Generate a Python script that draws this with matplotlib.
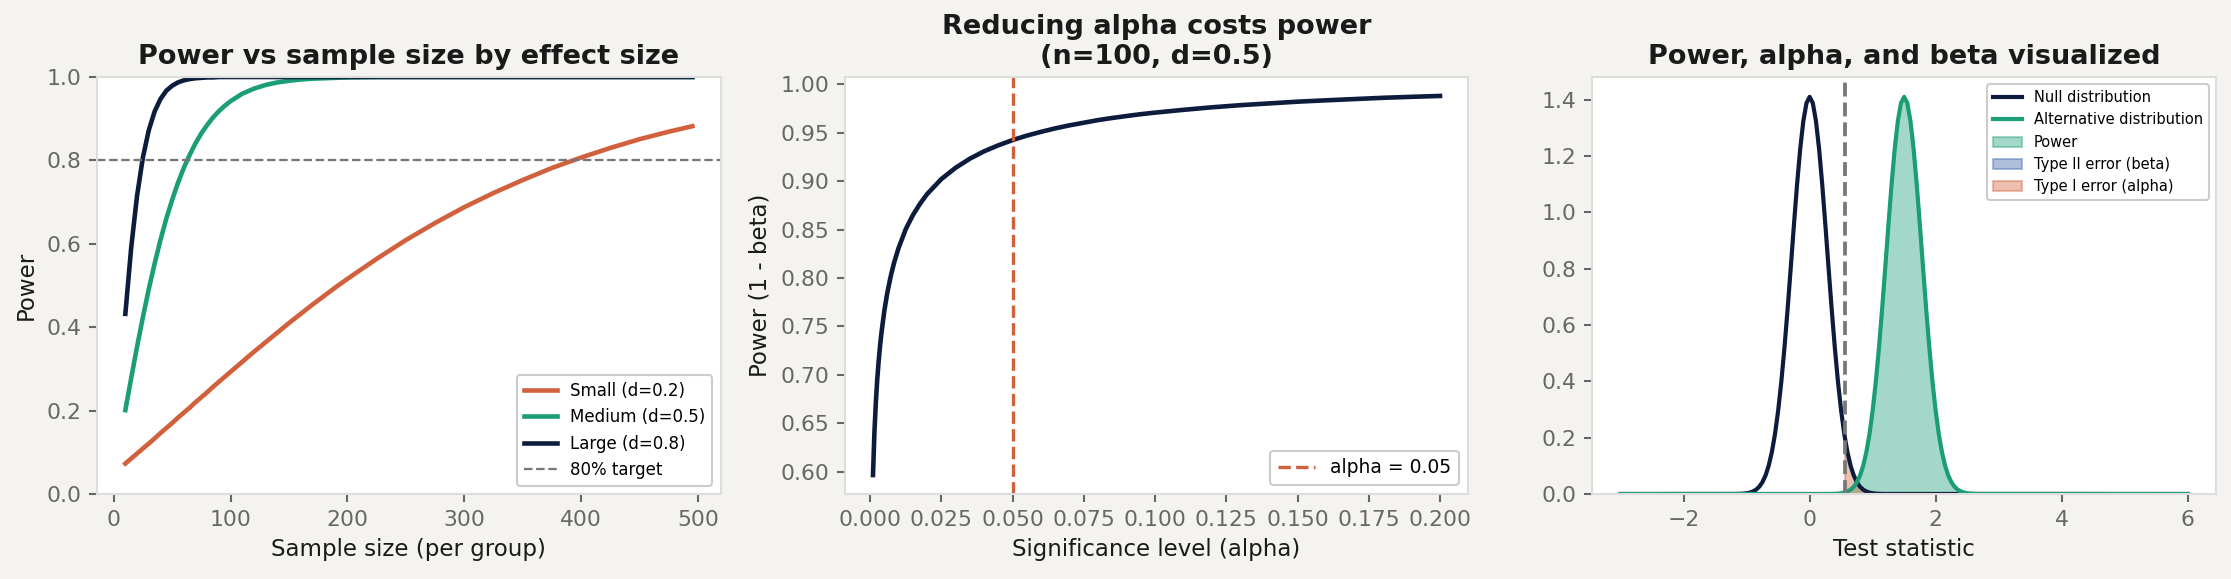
import numpy as np
import matplotlib
matplotlib.use("Agg")
import matplotlib.pyplot as plt

# ---------------- data ----------------
# Panel 1: power vs sample size
sample_sizes = [10, 15, 20, 25, 30, 35, 40, 45, 50,
                55, 60, 65, 70, 75, 80, 85, 90, 95, 100,
                110, 120, 130, 140, 150, 160, 170, 180, 190, 200,
                225, 250, 275, 300, 325, 350, 375, 400, 425, 450, 475, 495]
power_small = [0.073, 0.085, 0.097, 0.109, 0.121, 0.133, 0.146, 0.158, 0.170,
               0.183, 0.195, 0.207, 0.220, 0.232, 0.244, 0.257, 0.269, 0.281, 0.293,
               0.317, 0.341, 0.364, 0.387, 0.410, 0.432, 0.454, 0.475, 0.496, 0.516,
               0.564, 0.609, 0.650, 0.688, 0.722, 0.753, 0.782, 0.807, 0.830, 0.851,
               0.869, 0.882]
power_medium = [0.201, 0.278, 0.353, 0.424, 0.491, 0.552, 0.609, 0.660, 0.705,
                0.746, 0.782, 0.813, 0.841, 0.865, 0.885, 0.903, 0.918, 0.931, 0.942,
                0.960, 0.972, 0.981, 0.987, 0.991, 0.994, 0.996, 0.997, 0.998, 0.999,
                1.0, 1.0, 1.0, 1.0, 1.0, 1.0, 1.0, 1.0, 1.0, 1.0, 1.0, 1.0]
power_large = [0.432, 0.591, 0.715, 0.807, 0.872, 0.917, 0.947, 0.967, 0.979,
               0.987, 0.992, 0.995, 0.997, 0.998, 0.999, 0.999, 1.0, 1.0, 1.0,
               1.0, 1.0, 1.0, 1.0, 1.0, 1.0, 1.0, 1.0, 1.0, 1.0,
               1.0, 1.0, 1.0, 1.0, 1.0, 1.0, 1.0, 1.0, 1.0, 1.0, 1.0, 1.0]
series_labels = ["Small (d=0.2)", "Medium (d=0.5)", "Large (d=0.8)"]
target_power = 0.8

# Panel 2: power vs alpha
alphas = [0.001, 0.0015, 0.002, 0.0025, 0.003, 0.0035, 0.004, 0.005, 0.006, 0.007,
          0.0075, 0.0085, 0.01, 0.0125, 0.015, 0.0175, 0.02, 0.025, 0.03, 0.035,
          0.04, 0.045, 0.05, 0.055, 0.06, 0.065, 0.07, 0.075, 0.08, 0.085, 0.09,
          0.095, 0.10, 0.11, 0.12, 0.13, 0.14, 0.15, 0.16, 0.17, 0.18, 0.19, 0.20]
power_by_alpha = [0.5967, 0.6406, 0.6718, 0.6958, 0.7147, 0.7307, 0.7442, 0.7666,
                  0.7843, 0.7988, 0.8053, 0.8168, 0.8311, 0.8504, 0.8649, 0.8766,
                  0.8866, 0.9021, 0.9137, 0.9231, 0.9307, 0.9369, 0.9423, 0.9469,
                  0.9508, 0.9544, 0.9575, 0.9602, 0.9629, 0.9651, 0.9671, 0.9690,
                  0.9706, 0.9735, 0.9761, 0.9783, 0.9801, 0.9819, 0.9833, 0.9846,
                  0.9859, 0.9869, 0.9878]
alpha_ref = 0.05

# Panel 3: null and alternative distributions
null_x = [-3.0, -1.2, -1.15, -1.1, -1.05, -1.0, -0.95, -0.9, -0.85, -0.8, -0.75, -0.7,
          -0.65, -0.6, -0.55, -0.5, -0.45, -0.4, -0.35, -0.3, -0.25, -0.2, -0.15,
          -0.1, -0.05, 0.0, 0.05, 0.1, 0.15, 0.2, 0.25, 0.3, 0.35, 0.4, 0.45, 0.5,
          0.55, 0.554, 0.6, 0.65, 0.7, 0.75, 0.8, 0.85, 0.9, 0.95, 1.0, 1.05, 1.1,
          1.15, 1.2, 6.0]
null_density = [0.0, 0.0002, 0.0004, 0.0007, 0.0014, 0.0027, 0.0050, 0.0089, 0.0154,
                0.0258, 0.0419, 0.0660, 0.1006, 0.1487, 0.2129, 0.2957, 0.3979, 0.5189,
                0.6560, 0.8037, 0.9544, 1.0985, 1.2255, 1.3250, 1.3886, 1.4105, 1.3886,
                1.3250, 1.2255, 1.0985, 0.9544, 0.8037, 0.6560, 0.5189, 0.3979, 0.2957,
                0.2129, 0.2072, 0.1487, 0.1006, 0.0660, 0.0419, 0.0258, 0.0154, 0.0089,
                0.0050, 0.0027, 0.0014, 0.0007, 0.0004, 0.0002, 0.0]
alt_x = [-3.0, 0.3, 0.35, 0.4, 0.45, 0.5, 0.55, 0.554, 0.6, 0.65, 0.7, 0.75, 0.8, 0.85,
         0.9, 0.95, 1.0, 1.05, 1.1, 1.15, 1.2, 1.25, 1.3, 1.35, 1.4, 1.45, 1.5, 1.55,
         1.6, 1.65, 1.7, 1.75, 1.8, 1.85, 1.9, 1.95, 2.0, 2.05, 2.1, 2.15, 2.2, 2.25,
         2.3, 2.35, 2.4, 2.45, 2.5, 2.55, 2.6, 2.65, 2.7, 6.0]
alt_density = [0.0, 0.0002, 0.0004, 0.0007, 0.0014, 0.0027, 0.0050, 0.0053, 0.0089,
               0.0154, 0.0258, 0.0419, 0.0660, 0.1006, 0.1487, 0.2129, 0.2957, 0.3979,
               0.5189, 0.6560, 0.8037, 0.9544, 1.0985, 1.2255, 1.3250, 1.3886, 1.4105,
               1.3886, 1.3250, 1.2255, 1.0985, 0.9544, 0.8037, 0.6560, 0.5189, 0.3979,
               0.2957, 0.2129, 0.1487, 0.1006, 0.0660, 0.0419, 0.0258, 0.0154, 0.0089,
               0.0050, 0.0027, 0.0014, 0.0007, 0.0004, 0.0002, 0.0]
critical_value = 0.554

# ---------------- style ----------------
BG = "#f4f3ef"
NAVY = "#0d1b3d"
GREEN = "#1b9e77"
ORANGE = "#d1603d"
BLUE = "#4c72b0"
TICK = "#666666"
SPINE = "#dddddd"
TEXT = "#1a1a1a"

plt.rcParams.update({
    "font.family": ["DejaVu Sans"],
    "axes.edgecolor": SPINE,
    "axes.linewidth": 1.0,
    "xtick.color": TICK,
    "ytick.color": TICK,
    "xtick.labelcolor": TICK,
    "ytick.labelcolor": TICK,
    "xtick.labelsize": 10.5,
    "ytick.labelsize": 10.5,
    "axes.labelsize": 11,
    "axes.labelcolor": TEXT,
    "axes.titlesize": 13,
    "axes.titleweight": "bold",
    "axes.titlecolor": TEXT,
    "legend.edgecolor": "#cccccc",
})

fig, axes = plt.subplots(1, 3, figsize=(2231 / 150, 579 / 150), dpi=150)
fig.patch.set_facecolor(BG)
fig.subplots_adjust(left=97 / 2231, right=2216 / 2231, bottom=1 - 494 / 579,
                    top=1 - 77 / 579, wspace=124 / 624)

for ax in axes:
    ax.set_facecolor("white")
    for s in ax.spines.values():
        s.set_color(SPINE)
    ax.tick_params(length=4, width=1)

# Panel 1
ax = axes[0]
ax.plot(sample_sizes, power_small, color=ORANGE, lw=2.2, label=series_labels[0])
ax.plot(sample_sizes, power_medium, color=GREEN, lw=2.2, label=series_labels[1])
ax.plot(sample_sizes, power_large, color=NAVY, lw=2.2, label=series_labels[2])
ax.axhline(target_power, color="#777777", ls="--", lw=1.1, label="80% target")
ax.set_ylim(0, 1)
ax.set_xlabel("Sample size (per group)")
ax.set_ylabel("Power")
ax.set_title("Power vs sample size by effect size")
ax.legend(loc="lower right", fontsize=8, framealpha=1)

# Panel 2
ax = axes[1]
ax.plot(alphas, power_by_alpha, color=NAVY, lw=2.2)
ax.axvline(alpha_ref, color=ORANGE, ls="--", lw=1.6, label="alpha = 0.05")
ax.set_xticks([0.0, 0.025, 0.05, 0.075, 0.1, 0.125, 0.15, 0.175, 0.2])
ax.set_xticklabels(["0.000", "0.025", "0.050", "0.075", "0.100", "0.125", "0.150", "0.175", "0.200"])
ax.set_xlabel("Significance level (alpha)")
ax.set_ylabel("Power (1 - beta)")
ax.set_title("Reducing alpha costs power\n(n=100, d=0.5)")
ax.legend(loc="lower right", fontsize=9, framealpha=1)

# Panel 3
ax = axes[2]
nx = np.array(null_x)
nd = np.array(null_density)
axx = np.array(alt_x)
ad = np.array(alt_density)
ax.plot(nx, nd, color=NAVY, lw=2, label="Null distribution")
ax.plot(axx, ad, color=GREEN, lw=2, label="Alternative distribution")
ax.fill_between(axx, ad, where=axx >= critical_value, color=GREEN, alpha=0.4,
                label="Power")
ax.fill_between(axx, ad, where=axx <= critical_value, color=BLUE, alpha=0.45,
                label="Type II error (beta)")
ax.fill_between(nx, nd, where=nx >= critical_value, color=ORANGE, alpha=0.4,
                label="Type I error (alpha)")
ax.axvline(critical_value, color="#777777", ls="--", lw=1.8)
ax.set_ylim(bottom=0)
ax.set_xlabel("Test statistic")
ax.set_title("Power, alpha, and beta visualized")
ax.legend(loc="upper right", fontsize=7, framealpha=1)

fig.savefig("out.png", dpi=150, facecolor=BG)
